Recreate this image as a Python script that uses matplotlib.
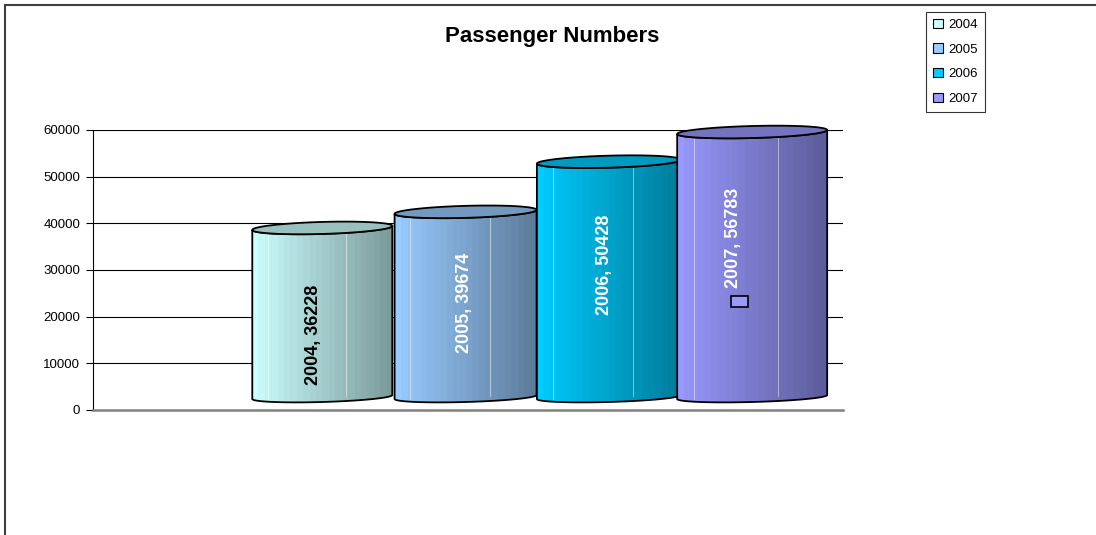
import numpy as np
import matplotlib
matplotlib.use('Agg')
import matplotlib.pyplot as plt
from matplotlib.patches import Polygon, Rectangle, Patch
from matplotlib.colors import to_rgb
from matplotlib.lines import Line2D

# ---------------- data ----------------
years = ['2004', '2005', '2006', '2007']
passengers = [36228, 39674, 50428, 56783]
colors = ['#CCFFFF', '#99CCFF', '#00CCFF', '#9999FF']
label_colors = ['black', 'white', 'white', 'white']
yticks = [0, 10000, 20000, 30000, 40000, 50000, 60000]
title = 'Passenger Numbers'

# ---------------- layout / style ----------------
W, H = 1096, 535
plt.rcParams['font.family'] = ['Liberation Sans', 'DejaVu Sans']

fig = plt.figure(figsize=(W / 100, H / 100), dpi=100)
ax_left, ax_right, ax_top, ax_bot = 93, 843, 130, 410
ax = fig.add_axes([ax_left / W, 1 - ax_bot / H, (ax_right - ax_left) / W, (ax_bot - ax_top) / H])

slot_px = 143.3                     # pixels per category slot
xmax = (ax_right - ax_left) / slot_px
ymax = 60000
px_y = (ax_bot - ax_top) / ymax     # pixels per data unit (y)

def ypx(p):   # pixel length -> data length (y)
    return p / px_y

def xpx(p):   # pixel length -> data length (x)
    return p / slot_px

first_center = 1.60
half_w = [xpx(70), xpx(71), xpx(72), xpx(75)]
base = ypx(13)           # depth offset of the front base
ry_top = ypx(6)
ry_bot = ypx(5)
tilt = ypx(4)            # rise across the full width
label_frac = [0.37, 0.51, 0.56, 0.60]
label_dx = [xpx(-9), xpx(-1), xpx(-4), xpx(-19)]
show_key = [False, False, False, True]

ax.set_xlim(0, xmax)
ax.set_ylim(0, ymax)

# gridlines (back wall)
for t in yticks[1:]:
    ax.axhline(t, color='black', lw=0.8, zorder=0)
ax.set_yticks(yticks)
ax.set_yticklabels([str(t) for t in yticks])
ax.tick_params(axis='y', length=5.0, width=0.8, pad=4.3, labelsize=9.5, direction='out')
ax.set_xticks([])
for s in ['top', 'right']:
    ax.spines[s].set_visible(False)
ax.spines['left'].set_linewidth(0.8)
ax.spines['bottom'].set_color('#808080')
ax.spines['bottom'].set_linewidth(1.8)
ax.patch.set_alpha(0)

nt = 80
for i, (yr, val, col) in enumerate(zip(years, passengers, colors)):
    cx = first_center + i
    a = half_w[i]
    s = tilt / (2 * a)
    ytop = base + val
    ybot = base
    rgb = np.array(to_rgb(col))
    z = 2 + i * 3

    t1 = np.linspace(np.pi, 2 * np.pi, nt)
    top_front_x = cx + a * np.cos(t1)
    top_front_y = ytop + ry_top * np.sin(t1) + s * (top_front_x - cx)
    t2 = np.linspace(2 * np.pi, np.pi, nt)
    bot_front_x = cx + a * np.cos(t2)
    bot_front_y = ybot + ry_bot * np.sin(t2) + s * (bot_front_x - cx)
    body_xy = np.column_stack([np.concatenate([top_front_x, bot_front_x]),
                               np.concatenate([top_front_y, bot_front_y])])

    body = Polygon(body_xy, closed=True, facecolor='none', edgecolor='black', lw=1.3,
                   zorder=z + 1, clip_on=False)
    ax.add_patch(body)

    # banded horizontal gradient inside the body
    nb = 22
    u = (np.arange(nb) + 0.5) / nb
    fac = 1.0 - 0.40 * u
    fac[0] = 1.0
    grad = np.clip(rgb[None, :] * fac[:, None], 0, 1)[None, :, :]
    im = ax.imshow(grad, extent=[cx - a, cx + a, ybot - 2 * ry_bot - tilt, ytop + 2 * ry_top + tilt],
                   aspect='auto', interpolation='nearest', zorder=z, origin='lower')
    clip = Polygon(body_xy, closed=True, transform=ax.transData)
    im.set_clip_path(clip)
    im.set_clip_box(None)

    # faint highlight lines
    for fr in (0.11, 0.67):
        xx = cx - a + 2 * a * fr
        ax.plot([xx, xx], [ybot + s * (xx - cx), ytop + s * (xx - cx) - ry_top * 0.8],
                color='white', lw=0.6, alpha=0.55, zorder=z + 0.5, clip_on=False)

    # top face
    tt = np.linspace(0, 2 * np.pi, 2 * nt)
    tx = cx + a * np.cos(tt)
    ty = ytop + ry_top * np.sin(tt) + s * (tx - cx)
    top = Polygon(np.column_stack([tx, ty]), closed=True, facecolor=np.clip(rgb * 0.75, 0, 1),
                  edgecolor='black', lw=1.3, zorder=z + 2, clip_on=False)
    ax.add_patch(top)

    # data label
    ly = base + label_frac[i] * val
    lx = cx + label_dx[i]
    ax.text(lx, ly, f'{yr}, {val}', rotation=90, ha='center', va='center',
            fontsize=13, fontweight='bold', color=label_colors[i], zorder=z + 2.5)
    if show_key[i]:
        kw, kh = xpx(17), ypx(11)
        kx = lx + xpx(6.5) - kw / 2
        ky = ly - ypx(52 + 16.5)
        ax.add_patch(Rectangle((kx, ky), kw, kh, facecolor=col, edgecolor='black',
                               lw=1.2, zorder=z + 2.6))

ax.set_xlim(0, xmax)
ax.set_ylim(0, ymax)

# title
fig.text(552 / W, 1 - 37 / H, title, ha='center', va='center', fontsize=16, fontweight='bold')

# legend
handles = [Patch(facecolor=c, edgecolor='black', lw=0.8) for c in colors]
leg = fig.legend(handles, years, loc='upper left', bbox_to_anchor=(926 / W, 1 - 12 / H),
                 frameon=True, fancybox=False, edgecolor='black', fontsize=9.5,
                 handlelength=0.8, handleheight=0.7, handletextpad=0.4,
                 labelspacing=0.95, borderpad=0.5, borderaxespad=0)
leg.get_frame().set_linewidth(0.8)

# chart-area frame (left and top)
fig.add_artist(Line2D([5 / W, 5 / W], [0, 1 - 5 / H], transform=fig.transFigure, color='#404040', lw=1.5))
fig.add_artist(Line2D([5 / W, 1], [1 - 5 / H, 1 - 5 / H], transform=fig.transFigure, color='#404040', lw=1.5))

fig.savefig('out.png', dpi=100, facecolor='white')
